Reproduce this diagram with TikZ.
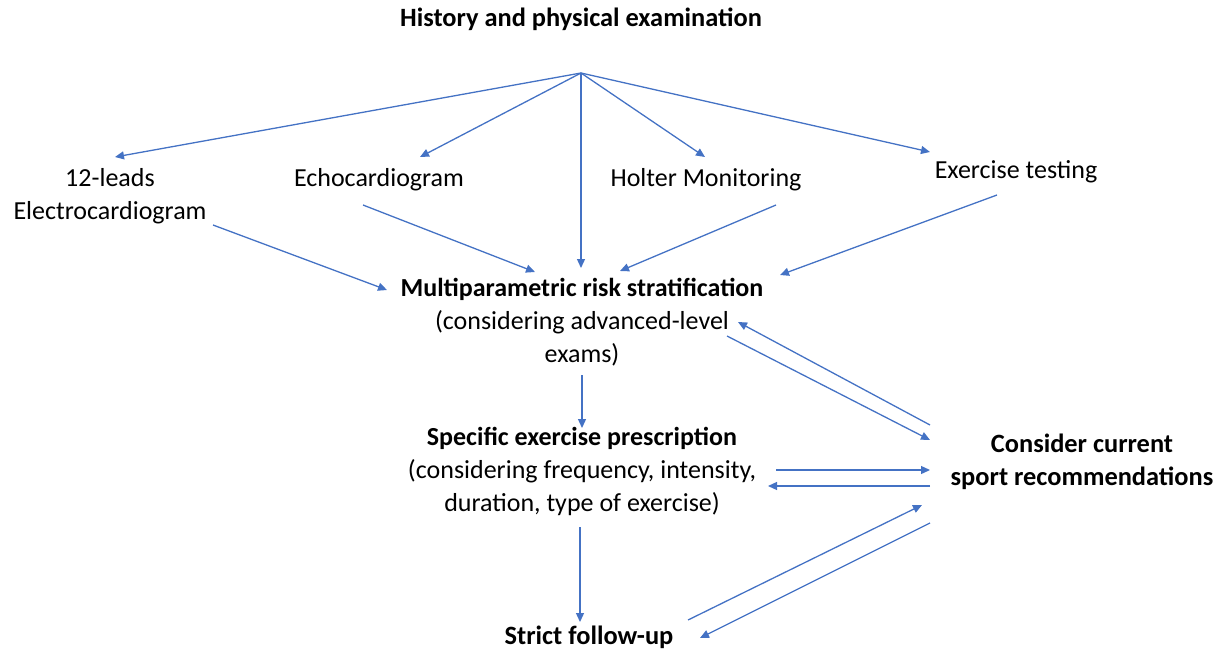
\documentclass[tikz,border=0pt]{standalone}
\usepackage{fontspec}
\setmainfont{Carlito}
\usetikzlibrary{arrows.meta}
\definecolor{arrowblue}{RGB}{68,114,196}
\tikzset{
  txt/.style={inner sep=0pt, align=center, font=\fontsize{26}{33}\selectfont, text=black},
  btxt/.style={txt, font=\fontsize{26.4}{33}\selectfont\bfseries},
  conn/.style={draw=arrowblue, line width=1.3pt, -{Triangle[width=8pt,length=9pt]}},
}
\begin{document}
\begin{tikzpicture}[x=1pt,y=-1pt]
\useasboundingbox (0,0) rectangle (1226,653);
% texts
\node[btxt] (hist) at (581,19) {History and physical examination};
\node[txt] (ecg) at (110,196) {12-leads\\Electrocardiogram};
\node[txt] (echo) at (379,180) {Echocardiogram};
\node[txt] (holter) at (706,180) {Holter Monitoring};
\node[txt] (ex) at (1016,172) {Exercise testing};
\node[txt] (multi) at (582,322) {\textbf{Multiparametric risk stratification}\\(considering advanced-level\\exams)};
\node[txt] (spec) at (582,471) {\textbf{Specific exercise prescription}\\(considering frequency, intensity,\\duration, type of exercise)};
\node[btxt] (cons) at (1082,462) {Consider current\\sport recommendations};
\node[btxt] (fu) at (589,637) {Strict follow-up};
% connector points
\coordinate (hub) at (581,73);
\coordinate (ecgIn) at (115,157);
\coordinate (echoIn) at (420,157);
\coordinate (holterIn) at (705,157);
\coordinate (exIn) at (930,152);
\coordinate (multiTop) at (581,268);
\coordinate (ecgOut) at (213,225);
\coordinate (multiL) at (387,290);
\coordinate (echoOut) at (363,205);
\coordinate (multiTL) at (535,272);
\coordinate (holterOut) at (776,205);
\coordinate (multiTR) at (620,271);
\coordinate (exOut) at (997,195);
\coordinate (multiR) at (780,275);
\coordinate (multiBot) at (582,375);
\coordinate (specTop) at (582,428);
\coordinate (consA) at (930,425);
\coordinate (multiIn) at (738,322);
\coordinate (multiOut) at (727,336);
\coordinate (consB) at (930,440);
\coordinate (specOut) at (776,470);
\coordinate (consC) at (930,470);
\coordinate (consD) at (930,486);
\coordinate (specIn) at (768,486);
\coordinate (specBot) at (580,527);
\coordinate (fuTop) at (580,622);
\coordinate (fuOut) at (688,620);
\coordinate (consE) at (922,505);
\coordinate (consF) at (930,523);
\coordinate (fuIn) at (700,638);
% connectors
\draw[conn] (hub) -- (ecgIn);
\draw[conn] (hub) -- (echoIn);
\draw[conn] (hub) -- (holterIn);
\draw[conn] (hub) -- (exIn);
\draw[conn] (hub) -- (multiTop);
\draw[conn] (ecgOut) -- (multiL);
\draw[conn] (echoOut) -- (multiTL);
\draw[conn] (holterOut) -- (multiTR);
\draw[conn] (exOut) -- (multiR);
\draw[conn] (multiBot) -- (specTop);
\draw[conn] (consA) -- (multiIn);
\draw[conn] (multiOut) -- (consB);
\draw[conn] (specOut) -- (consC);
\draw[conn] (consD) -- (specIn);
\draw[conn] (specBot) -- (fuTop);
\draw[conn] (fuOut) -- (consE);
\draw[conn] (consF) -- (fuIn);
\end{tikzpicture}
\end{document}
